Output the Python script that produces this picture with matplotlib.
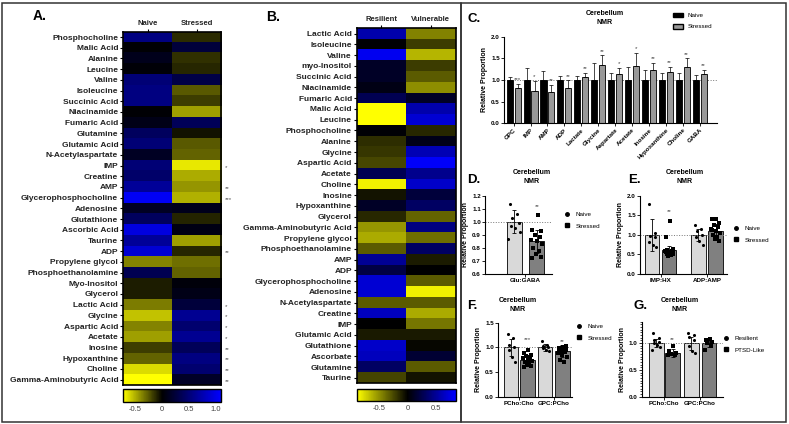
import numpy as np
import matplotlib
matplotlib.use('Agg')
import matplotlib.pyplot as plt
from matplotlib.colors import LinearSegmentedColormap, Normalize
from matplotlib.patches import Rectangle
from matplotlib.lines import Line2D
from matplotlib.ticker import MultipleLocator

plt.rcParams['font.family'] = ['Liberation Sans', 'DejaVu Sans']

W, H = 789, 424

# ---- panel A heatmap (Naive vs Stressed) ----
a_rows = ['Phosphocholine', 'Malic Acid', 'Alanine', 'Leucine', 'Valine', 'Isoleucine',
          'Succinic Acid', 'Niacinamide', 'Fumaric Acid', 'Glutamine', 'Glutamic Acid',
          'N-Acetylaspartate', 'IMP', 'Creatine', 'AMP', 'Glycerophosphocholine',
          'Adenosine', 'Glutathione', 'Ascorbic Acid', 'Taurine', 'ADP',
          'Propylene glycol', 'Phosphoethanolamine', 'Myo-Inositol', 'Glycerol',
          'Lactic Acid', 'Glycine', 'Aspartic Acid', 'Acetate', 'Inosine',
          'Hypoxanthine', 'Choline', 'Gamma-Aminobutyric Acid']
a_cols = ['Naive', 'Stressed']
a_naive = [0.55, 0.02, 0.12, 0.03, 0.5, 0.55, 0.55, 0.02, 0.1, 0.4, 0.5, 0.15, 0.5, 0.45,
           0.65, 1.05, 0.15, 0.4, 0.95, 0.65, 0.9, -0.37, 0.35, -0.08, -0.08, -0.35,
           -0.55, -0.37, -0.45, -0.17, -0.28, -0.62, -0.72]
a_stressed = [-0.12, 0.25, -0.14, -0.11, 0.3, -0.25, -0.17, -0.45, 0.38, -0.05, -0.25,
              -0.28, -0.65, -0.48, -0.42, -0.5, 0.12, -0.1, 0.08, -0.45, -0.11, -0.31,
              -0.28, 0.05, 0.1, 0.25, 0.62, 0.47, 0.62, 0.38, 0.55, 0.47, 0.17]
a_sig = {'IMP': '*', 'AMP': '**', 'Glycerophosphocholine': '***', 'ADP': '**',
         'Lactic Acid': '*', 'Glycine': '*', 'Aspartic Acid': '*', 'Acetate': '*',
         'Inosine': '**', 'Hypoxanthine': '**', 'Choline': '**',
         'Gamma-Aminobutyric Acid': '**'}

# ---- panel B heatmap (Resilient vs Vulnerable) ----
b_rows = ['Lactic Acid', 'Isoleucine', 'Valine', 'myo-Inositol', 'Succinic Acid',
          'Niacinamide', 'Fumaric Acid', 'Malic Acid', 'Leucine', 'Phosphocholine',
          'Alanine', 'Glycine', 'Aspartic Acid', 'Acetate', 'Choline', 'Inosine',
          'Hypoxanthine', 'Glycerol', 'Gamma-Aminobutyric Acid', 'Propylene glycol',
          'Phosphoethanolamine', 'AMP', 'ADP', 'Glycerophosphocholine', 'Adenosine',
          'N-Acetylaspartate', 'Creatine', 'IMP', 'Glutamic Acid', 'Glutathione',
          'Ascorbate', 'Glutamine', 'Taurine']
b_cols = ['Resilient', 'Vulnerable']
b_resilient = [0.57, 0.02, 0.8, 0.13, 0.13, 0.07, 0.27, -0.9, -0.9, 0.02, -0.16, -0.19,
               -0.25, 0.27, -0.85, -0.07, 0.13, -0.14, -0.53, -0.6, -0.32, 0.5, 0.23,
               0.7, 0.7, -0.32, 0.63, 0.0, -0.09, 0.67, 0.63, 0.33, -0.24]
b_vulnerable = [-0.46, -0.21, -0.64, -0.21, -0.32, -0.5, 0.13, 0.57, 0.7, -0.14, 0.08,
                0.6, 0.83, 0.47, 0.67, 0.2, 0.33, -0.35, 0.43, -0.39, 0.33, -0.1, 0.0,
                -0.32, -0.85, -0.32, -0.6, -0.42, -0.09, -0.02, 0.17, -0.32, -0.07]

# ---- panel C bars ----
c_labels = ['GPC', 'IMP', 'AMP', 'ADP', 'Lactate', 'Glycine', 'Aspartate', 'Acetate',
            'Inosine', 'Hypoxanthine', 'Choline', 'GABA']
c_naive = [1.0] * 12
c_naive_err = [0.08, 0.28, 0.2, 0.1, 0.09, 0.39, 0.16, 0.3, 0.22, 0.16, 0.17, 0.11]
c_stressed = [0.82, 0.75, 0.72, 0.82, 1.08, 1.35, 1.14, 1.33, 1.24, 1.19, 1.3, 1.14]
c_stressed_err = [0.09, 0.23, 0.16, 0.17, 0.08, 0.22, 0.14, 0.3, 0.15, 0.12, 0.2, 0.09]
c_sig = ['***', '*', '**', '**', '**', '**', '*', '*', '**', '**', '**', '**']

# ---- panel D ----
d_naive_pts = [1.14, 1.06, 1.03, 0.99, 0.97, 0.95, 0.92, 0.87]
d_stressed_pts = [1.05, 0.94, 0.93, 0.9, 0.88, 0.86, 0.85, 0.83, 0.8, 0.78, 0.75, 0.73, 0.72]
d_means = [1.0, 0.85]
d_errs = [0.087, 0.09]

# ---- panel E ----
e_groups = ['IMP:HX', 'ADP:AMP']
e_naive_pts = [[1.78, 1.05, 0.98, 0.95, 0.82, 0.75, 0.7],
               [1.25, 1.15, 1.1, 1.0, 0.95, 0.85, 0.75]]
e_stressed_pts = [[1.35, 0.95, 0.65, 0.62, 0.6, 0.58, 0.55, 0.52, 0.5, 0.48, 0.45, 0.6, 0.55],
                  [1.4, 1.4, 1.3, 1.25, 1.2, 1.15, 1.1, 1.05, 1.0, 0.95, 0.9, 0.85, 1.12]]
e_means = [[1.0, 0.62], [1.0, 1.1]]
e_errs = [[0.4, 0.1], [0.15, 0.18]]

# ---- panel F ----
f_groups = ['PCho:Cho', 'GPC:PCho']
f_naive_pts = [[1.28, 1.2, 1.05, 1.0, 0.95, 0.8, 0.7],
               [1.12, 1.05, 1.02, 1.0, 0.98, 0.95, 0.92]]
f_stressed_pts = [[0.95, 0.88, 0.85, 0.82, 0.8, 0.78, 0.75, 0.72, 0.7, 0.68, 0.65, 0.62, 0.6],
                  [1.0, 0.98, 0.95, 0.93, 0.9, 0.88, 0.85, 0.8, 0.75, 0.7, 0.95, 1.02, 0.9]]
f_means = [[1.0, 0.75], [1.0, 0.93]]
f_errs = [[0.17, 0.1], [0.07, 0.12]]

# ---- panel G ----
g_groups = ['PCho:Cho', 'GPC:PCho']
g_res_pts = [[1.18, 1.1, 1.05, 1.02, 1.0, 0.97, 0.92, 0.88],
             [1.18, 1.15, 1.12, 1.05, 0.95, 0.85, 0.82]]
g_ptsd_pts = [[0.95, 0.85, 0.82, 0.8, 0.78, 0.78],
              [1.07, 1.05, 1.02, 1.0, 0.95, 0.88]]
g_means = [[1.0, 0.82], [1.0, 1.0]]
g_errs = [[0.08, 0.07], [0.12, 0.07]]


def px(x0, y0, x1, y1):
    return [x0 / W, 1 - y1 / H, (x1 - x0) / W, (y1 - y0) / H]


fig = plt.figure(figsize=(W / 100, H / 100), dpi=100)

# frames
for x0, x1 in [(2, 461), (461, 786)]:
    fig.add_artist(Rectangle((x0 / W, 2 / H), (x1 - x0) / W, 419 / H, transform=fig.transFigure,
                             fill=False, lw=1.1, ec='#333333'))


def heat(rect, cbrect, rows, cols, c1, c2, vmin, vmax, ticks, ticklabels, sig=None):
    z = -vmin / (vmax - vmin)
    cmap = LinearSegmentedColormap.from_list('yb', [(0, '#ffff00'), (z, '#000000'), (1, '#0000ff')])
    norm = Normalize(vmin, vmax)
    ax = fig.add_axes(px(*rect))
    data = np.array([c1, c2]).T
    im = ax.imshow(data, aspect='auto', cmap=cmap, norm=norm, interpolation='nearest')
    ax.set_yticks(range(len(rows)))
    ax.set_yticklabels(rows, fontsize=6, fontweight='bold', color='#222222')
    ax.set_xticks([0, 1])
    ax.set_xticklabels(cols, fontsize=5.5, fontweight='bold', color='#222222')
    ax.xaxis.tick_top()
    ax.tick_params(length=2.5, width=0.8, pad=1)
    for s in ax.spines.values():
        s.set_linewidth(1.2)
    if sig:
        for i, r in enumerate(rows):
            if r in sig:
                ax.text(1.58, i + 0.15, sig[r], fontsize=4.5, color='#555555',
                        ha='left', va='center', clip_on=False)
    cax = fig.add_axes(px(*cbrect))
    cb = fig.colorbar(im, cax=cax, orientation='horizontal')
    cb.set_ticks(ticks)
    cb.set_ticklabels(ticklabels)
    cax.tick_params(labelsize=5.5, labelcolor='#444444', length=0, pad=3)
    cb.outline.set_linewidth(1.0)
    return ax


heat((123, 31.7, 221, 385), (123, 389, 221, 401.7), a_rows, a_cols, a_naive, a_stressed,
     -0.72, 1.09, [-0.5, 0, 0.5, 1.0], ['-0.5', '0', '0.5', '1.0'], a_sig)
heat((356.7, 28.3, 455.7, 383.3), (356.7, 389, 455.7, 401), b_rows, b_cols,
     b_resilient, b_vulnerable, -0.9, 0.85, [-0.5, 0, 0.5], ['-0.5', '0', '0.5'])

fig.text(33 / W, 1 - 16 / H, 'A.', fontsize=10, fontweight='bold', va='center')
fig.text(266 / W, 1 - 17 / H, 'B.', fontsize=10, fontweight='bold', va='center')


def style(ax, fs=4.5):
    ax.spines['top'].set_visible(False)
    ax.spines['right'].set_visible(False)
    for s in ('left', 'bottom'):
        ax.spines[s].set_linewidth(0.8)
    ax.tick_params(labelsize=fs, length=2, width=0.6, pad=1)
    for t in ax.get_xticklabels() + ax.get_yticklabels():
        t.set_fontweight('bold')
    ax.set_ylabel('Relative Proportion', fontsize=5, fontweight='bold', labelpad=2)


def title(x, y, lbl, lx, ly):
    fig.text(x / W, 1 - y / H, 'Cerebellum\nNMR', fontsize=5, fontweight='bold',
             ha='center', va='center', linespacing=1.3)
    fig.text(lx / W, 1 - ly / H, lbl, fontsize=9.5, fontweight='bold', va='center')


# ---- C ----
axc = fig.add_axes(px(504, 36.7, 717, 123.3))
xc = np.arange(len(c_labels))
axc.bar(xc - 0.235, c_naive, 0.36, color='black', edgecolor='black', lw=0.6,
        yerr=[np.zeros(12), c_naive_err], capsize=1.2, error_kw=dict(elinewidth=0.5, capthick=0.5))
axc.bar(xc + 0.235, c_stressed, 0.36, color='#999999', edgecolor='black', lw=0.6,
        yerr=[np.zeros(12), c_stressed_err], capsize=1.2, error_kw=dict(elinewidth=0.5, capthick=0.5))
for i in range(12):
    axc.text(xc[i] + 0.235, c_stressed[i] + c_stressed_err[i] + 0.04, c_sig[i],
             fontsize=4.5, ha='center', va='bottom', color='#444444')
axc.axhline(1.0, ls=':', color='#777777', lw=0.7, zorder=0)
axc.set_xlim(-0.57, 12.03)
axc.set_ylim(0, 2.0)
axc.set_yticks([0, 0.5, 1.0, 1.5, 2.0])
axc.set_xticks(xc)
axc.set_xticklabels(c_labels, rotation=45, ha='right', rotation_mode='anchor')
style(axc)
title(605, 18, 'C.', 467, 19)
fig.legend(handles=[Rectangle((0, 0), 1, 1, fc='black', ec='black'),
                    Rectangle((0, 0), 1, 1, fc='#999999', ec='black')],
           labels=['Naive', 'Stressed'], loc='upper left', bbox_to_anchor=(667 / W, 1 - 7 / H),
           frameon=False, fontsize=4.5, handlelength=1.6, handleheight=0.8, labelspacing=0.9)

dx_n = [-0.2, 0.15, -0.1, 0.2, -0.15, 0.05, 0.25, -0.25]
dx_s = [0.05, -0.2, 0.2, -0.1, 0.15, -0.25, 0.0, 0.25, -0.15, 0.1, -0.05, 0.2, -0.2]


def dots(ax, xpos, mean, err, pts, col, mk, bw):
    ax.bar(xpos, mean, bw, color=col, edgecolor='black', lw=0.6, zorder=1)
    ax.errorbar(xpos, mean, yerr=err, color='black', lw=0.6, capsize=1.5, capthick=0.6, zorder=3)
    offs = dx_n if mk == 'o' else dx_s
    ax.scatter([xpos + offs[k % len(offs)] for k in range(len(pts))], pts, s=5, marker=mk,
               color='black', zorder=4, linewidths=0)


def small_legend(x, y, labels):
    fig.legend(handles=[Line2D([], [], ls='', marker='o', ms=2.5, color='black'),
                        Line2D([], [], ls='', marker='s', ms=2.5, color='black')],
               labels=labels, loc='upper left', bbox_to_anchor=(x / W, 1 - y / H),
               frameon=False, fontsize=4.5, handlelength=1.0, labelspacing=1.0, handletextpad=0.9)


# ---- D ----
axd = fig.add_axes(px(485, 195.7, 552, 274))
dots(axd, 0, d_means[0], d_errs[0], d_naive_pts, '#d9d9d9', 'o', 0.66)
dots(axd, 1, d_means[1], d_errs[1], d_stressed_pts, '#808080', 's', 0.66)
axd.text(1, 1.105, '**', fontsize=4.5, ha='center', color='#444444')
axd.axhline(1.0, ls=':', color='#777777', lw=0.7, zorder=2)
axd.set_xlim(-1.28, 1.67)
axd.set_ylim(0.6, 1.2)
axd.set_yticks(np.arange(0.6, 1.21, 0.1))
axd.set_yticklabels(['0.6', '0.7', '0.8', '0.9', '1.0', '1.1', '1.2'])
axd.set_xticks([0.5])
axd.set_xticklabels(['Glu:GABA'])
style(axd)
title(532, 177, 'D.', 467, 180)
small_legend(558, 206, ['Naive', 'Stressed'])


def grouped(ax, pos, groups, npts, spts, means, errs, ccols, bw):
    for g in range(2):
        dots(ax, pos[g][0], means[g][0], errs[g][0], npts[g], ccols[0], 'o', bw)
        dots(ax, pos[g][1], means[g][1], errs[g][1], spts[g], ccols[1], 's', bw)
    ax.axhline(1.0, ls=':', color='#777777', lw=0.7, zorder=2)
    ax.set_xticks([sum(p) / 2 for p in pos])
    ax.set_xticklabels(groups)
    style(ax)


# ---- E ----
axe = fig.add_axes(px(640, 195.7, 727, 274))
grouped(axe, [(0, 1), (2.7, 3.7)], e_groups, e_naive_pts, e_stressed_pts, e_means, e_errs,
        ['#d9d9d9', '#808080'], 0.85)
axe.text(1, 1.55, '**', fontsize=4.5, ha='center', color='#444444')
axe.set_xlim(-0.7, 4.37)
axe.set_ylim(0, 2.0)
axe.set_yticks([0, 0.5, 1.0, 1.5, 2.0])
axe.set_yticklabels(['0.0', '0.5', '1.0', '1.5', '2.0'])
for t in axe.get_yticklabels():
    t.set_fontweight('bold')
title(685, 177, 'E.', 628, 180)
small_legend(727, 220, ['Naive', 'Stressed'])

# ---- F ----
axf = fig.add_axes(px(498, 322.7, 571.7, 396.7))
grouped(axf, [(0, 1), (2.06, 3.12)], f_groups, f_naive_pts, f_stressed_pts, f_means, f_errs,
        ['#d9d9d9', '#808080'], 0.88)
axf.text(1, 1.12, '***', fontsize=4.5, ha='center', color='#444444')
axf.text(3.12, 1.08, '**', fontsize=4.5, ha='center', color='#444444')
axf.set_xlim(-0.79, 3.68)
axf.set_ylim(0, 1.5)
axf.set_yticks([0, 0.5, 1.0, 1.5])
axf.set_yticklabels(['0.0', '0.5', '1.0', '1.5'])
for t in axf.get_yticklabels():
    t.set_fontweight('bold')
title(518, 305, 'F.', 467, 306)
small_legend(570, 318, ['Naive', 'Stressed'])

# ---- G ----
axg = fig.add_axes(px(641.7, 321.7, 723, 396.7))
grouped(axg, [(0, 1), (2.12, 3.2)], g_groups, g_res_pts, g_ptsd_pts, g_means, g_errs,
        ['#d9d9d9', '#808080'], 0.9)
axg.text(1, 1.04, '**', fontsize=4.5, ha='center', color='#444444')
axg.set_xlim(-0.87, 4.05)
axg.set_ylim(0, 1.4)
axg.set_yticks([0, 0.5, 1.0])
axg.set_yticklabels(['0.0', '0.5', '1.0'])
axg.yaxis.set_minor_locator(MultipleLocator(0.05))
axg.tick_params(which='minor', length=1.2, width=0.5)
for t in axg.get_yticklabels():
    t.set_fontweight('bold')
title(680, 305, 'G.', 633, 306)
small_legend(717, 330, ['Resilient', 'PTSD-Like'])

fig.savefig('out.png', dpi=100)
